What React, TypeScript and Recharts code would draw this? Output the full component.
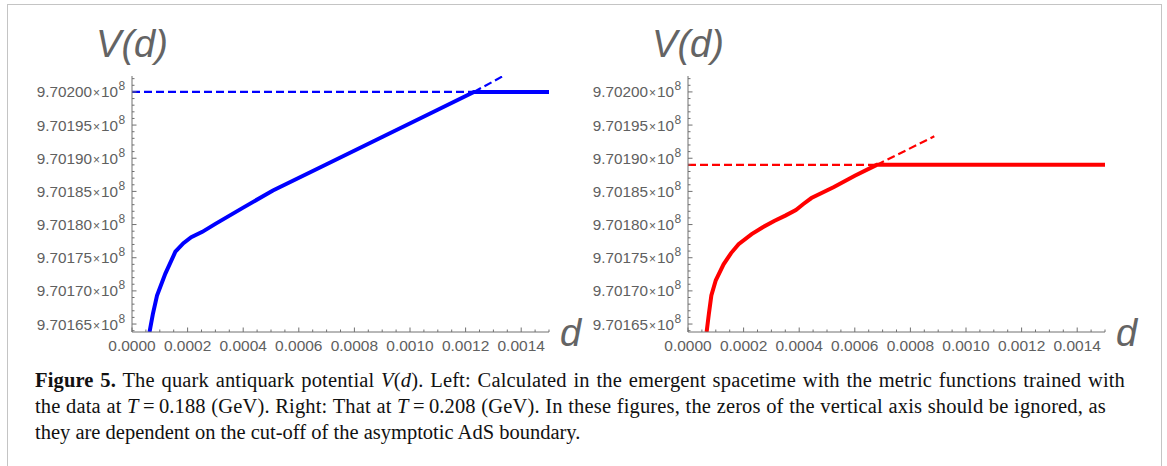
import React from 'react';
import { LineChart, Line, XAxis, YAxis } from 'recharts';

// d values (major ticks) and V(d) values (major ticks)
const xMajorTicks = [0, 0.0002, 0.0004, 0.0006, 0.0008, 0.001, 0.0012, 0.0014];
const yMajorTicks = [970165000, 970170000, 970175000, 970180000, 970185000, 970190000, 970195000, 970200000];

const xDomain = [0, 0.0015];
const yDomain = [970163800, 970202400];

// left panel, T = 0.188 GeV
const blueCurve = [
  { d: 0.000063, v: 970163800 },
  { d: 0.000075, v: 970166500 },
  { d: 0.00009, v: 970169300 },
  { d: 0.00012, v: 970172600 },
  { d: 0.000156, v: 970175900 },
  { d: 0.000185, v: 970177200 },
  { d: 0.000213, v: 970178100 },
  { d: 0.000253, v: 970178900 },
  { d: 0.0003, v: 970180100 },
  { d: 0.0004, v: 970182550 },
  { d: 0.000507, v: 970185150 },
  { d: 0.0007, v: 970189100 },
  { d: 0.0009, v: 970193200 },
  { d: 0.0011, v: 970197300 },
  { d: 0.00123, v: 970200000 },
  { d: 0.0015, v: 970200000 },
];
const blueFlatDash = [
  { d: 0, v: 970200000 },
  { d: 0.00123, v: 970200000 },
];
const blueSlopeDash = [
  { d: 0.00123, v: 970200000 },
  { d: 0.001335, v: 970202400 },
];

// right panel, T = 0.208 GeV
const redCurve = [
  { d: 0.000067, v: 970163800 },
  { d: 0.000075, v: 970166500 },
  { d: 0.000084, v: 970169300 },
  { d: 0.0001, v: 970171600 },
  { d: 0.000128, v: 970174000 },
  { d: 0.000155, v: 970175700 },
  { d: 0.000182, v: 970177050 },
  { d: 0.000229, v: 970178550 },
  { d: 0.000269, v: 970179600 },
  { d: 0.00031, v: 970180550 },
  { d: 0.00035, v: 970181350 },
  { d: 0.000388, v: 970182200 },
  { d: 0.000415, v: 970183100 },
  { d: 0.000444, v: 970184000 },
  { d: 0.000525, v: 970185650 },
  { d: 0.0006, v: 970187350 },
  { d: 0.000679, v: 970189000 },
  { d: 0.0015, v: 970189000 },
];
const redFlatDash = [
  { d: 0, v: 970189000 },
  { d: 0.000679, v: 970189000 },
];
const redSlopeDash = [
  { d: 0.000679, v: 970189000 },
  { d: 0.000886, v: 970193300 },
];

// minor ticks every 0.00005 and every 1000
const xAllTicks: number[] = [];
for (let k = 0; k <= 30; k++) xAllTicks.push(+(k * 0.00005).toFixed(5));
const yAllTicks: number[] = [];
for (let v = 970164000; v <= 970202000; v += 1000) yAllTicks.push(v);

const AXIS = '#707070';
const LABEL = '#606060';
const TICK_FONT = '"Liberation Sans", Arial, sans-serif';

const isMajorX = (v: number) => xMajorTicks.some((t) => Math.abs(t - v) < 1e-9);
const isMajorY = (v: number) => yMajorTicks.includes(v);

const XTick = (props: any) => {
  const { x, y, payload } = props;
  const major = isMajorX(payload.value);
  return (
    <g>
      <line x1={x} y1={y} x2={x} y2={y - (major ? 4.5 : 2.5)} stroke={AXIS} strokeWidth={1} />
      {major && (
        <text x={x} y={y + 19} textAnchor="middle" fill={LABEL} fontSize={15.5} fontFamily={TICK_FONT}>
          {payload.value.toFixed(4)}
        </text>
      )}
    </g>
  );
};

const YTick = (props: any) => {
  const { x, y, payload } = props;
  const major = isMajorY(payload.value);
  return (
    <g>
      <line x1={x} y1={y} x2={x + (major ? 4.5 : 2.5)} y2={y} stroke={AXIS} strokeWidth={1} />
      {major && (
        <text x={x - 14} y={y + 5.5} textAnchor="end" fill={LABEL} fontSize={15.3} fontFamily={TICK_FONT}>
          {(payload.value / 1e8).toFixed(5)}
          <tspan fontSize={12} dx={1}>{'\u00d7'}</tspan>
          <tspan dx={1}>10</tspan>
        </text>
      )}
      {major && (
        <text x={x - 13.5} y={y - 1.5} textAnchor="start" fill={LABEL} fontSize={12} fontFamily={TICK_FONT}>
          8
        </text>
      )}
    </g>
  );
};

const Panel = ({ left, color, curve, flatDash, slopeDash }: any) => (
  <div style={{ position: 'absolute', left, top: 0, width: 580, height: 360 }}>
    <LineChart width={580} height={360} margin={{ top: 76, right: 31, bottom: 0, left: 0 }}>
      <XAxis
        type="number"
        dataKey="d"
        domain={xDomain}
        ticks={xAllTicks}
        interval={0}
        allowDataOverflow
        height={28}
        tickSize={0}
        tickMargin={0}
        tickLine={false}
        axisLine={{ stroke: AXIS, strokeWidth: 1 }}
        tick={<XTick />}
      />
      <YAxis
        type="number"
        dataKey="v"
        domain={yDomain}
        ticks={yAllTicks}
        interval={0}
        allowDataOverflow
        width={132}
        tickSize={0}
        tickMargin={0}
        tickLine={false}
        axisLine={{ stroke: AXIS, strokeWidth: 1 }}
        tick={<YTick />}
      />
      <Line data={curve} dataKey="v" type="linear" stroke={color} strokeWidth={4} dot={false} activeDot={false} isAnimationActive={false} />
      <Line data={flatDash} dataKey="v" type="linear" stroke={color} strokeWidth={2.2} strokeDasharray="8 4" dot={false} activeDot={false} isAnimationActive={false} />
      <Line data={slopeDash} dataKey="v" type="linear" stroke={color} strokeWidth={2.2} strokeDasharray="8 4" dot={false} activeDot={false} isAnimationActive={false} />
    </LineChart>
    <div style={{ position: 'absolute', left: 132, top: 24, transform: 'translateX(-50%)', fontFamily: TICK_FONT, fontStyle: 'italic', fontSize: 38, color: '#646464', lineHeight: '40px', whiteSpace: 'nowrap' }}>
      V(d)
    </div>
    <div style={{ position: 'absolute', left: 560, top: 313, fontFamily: TICK_FONT, fontStyle: 'italic', fontSize: 38, color: '#646464', lineHeight: '40px' }}>
      d
    </div>
  </div>
);

const captionLine: React.CSSProperties = {
  position: 'absolute',
  left: 35,
  height: 26,
  lineHeight: '26px',
  fontFamily: '"Liberation Serif", "Times New Roman", serif',
  fontSize: 20.5,
  color: '#111',
  whiteSpace: 'nowrap',
};

const justified: React.CSSProperties = {
  whiteSpace: 'normal',
  textAlign: 'justify',
  textAlignLast: 'justify',
  letterSpacing: 0.15,
  overflow: 'visible',
};

export default function App() {
  return (
    <div style={{ position: 'absolute', left: 0, top: 0, width: 1167, height: 466, background: '#fff', overflow: 'hidden' }}>
      <div style={{ position: 'absolute', left: 7, top: 4, width: 1153, height: 520, border: '1.5px solid #c4c4c4' }} />
      <Panel left={0} color="#0000ff" curve={blueCurve} flatDash={blueFlatDash} slopeDash={blueSlopeDash} />
      <Panel left={556} color="#ff0000" curve={redCurve} flatDash={redFlatDash} slopeDash={redSlopeDash} />
      <div style={{ ...captionLine, ...justified, top: 367, width: 1090 }}>
        <b>Figure 5.</b> The quark antiquark potential <i>V</i>(<i>d</i>). Left: Calculated in the emergent spacetime with the metric functions trained with
      </div>
      <div style={{ ...captionLine, ...justified, top: 393, width: 1071 }}>
        the data at <i>T</i>&thinsp;=&thinsp;0.188 (GeV). Right: That at <i>T</i>&thinsp;=&thinsp;0.208 (GeV). In these figures, the zeros of the vertical axis should be ignored, as
      </div>
      <div style={{ ...captionLine, top: 419 }}>
        they are dependent on the cut-off of the asymptotic AdS boundary.
      </div>
    </div>
  );
}
